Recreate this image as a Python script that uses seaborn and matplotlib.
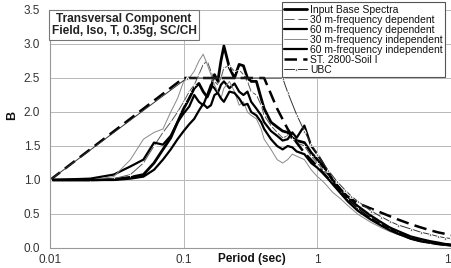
import numpy as np
import pandas as pd
import matplotlib
matplotlib.use("Agg")
import matplotlib.pyplot as plt
import seaborn as sns
from matplotlib.ticker import FixedLocator, FixedFormatter, NullLocator

# periods (sec) shared by the recorded spectra
period = [0.01, 0.02, 0.03, 0.04, 0.05, 0.06, 0.07, 0.08, 0.09, 0.1,
          0.11, 0.12, 0.13, 0.14, 0.15, 0.16, 0.17, 0.18, 0.19, 0.2,
          0.22, 0.24, 0.26, 0.28, 0.3, 0.32, 0.35, 0.38, 0.4, 0.45,
          0.5, 0.55, 0.6, 0.65, 0.7, 0.8, 0.9, 1.0, 1.1, 1.2,
          1.3, 1.5, 1.7, 2.0, 2.5, 3.0, 3.5, 4, 5, 6,
          7, 8, 9, 10]

input_base = [1.0, 1.0, 1.01, 1.04, 1.08, 1.25, 1.45, 1.62, 1.85, 2.05,
              2.2, 2.35, 2.42, 2.3, 2.22, 2.35, 2.55, 2.45, 2.75, 2.97,
              2.65, 2.5, 2.7, 2.68, 2.5, 2.45, 2.45, 2.2, 2.05, 1.85,
              1.78, 1.72, 1.7, 1.62, 1.58, 1.55, 1.4, 1.3, 1.2, 1.12,
              1.0, 0.85, 0.72, 0.6, 0.45, 0.35, 0.28, 0.22, 0.14, 0.1,
              0.08, 0.06, 0.05, 0.04]

dep_30 = [1.0, 1.0, 1.02, 1.08, 1.25, 1.5, 1.7, 1.85, 2.0, 2.15,
          2.3, 2.4, 2.55, 2.7, 2.75, 2.6, 2.45, 2.4, 2.5, 2.65,
          2.68, 2.6, 2.62, 2.55, 2.45, 2.3, 2.25, 2.1, 1.95, 1.8,
          1.7, 1.62, 1.65, 1.6, 1.55, 1.5, 1.35, 1.25, 1.15, 1.08,
          0.98, 0.85, 0.74, 0.6, 0.46, 0.37, 0.3, 0.25, 0.17, 0.12,
          0.09, 0.07, 0.06, 0.05]

dep_60 = [1.0, 1.02, 1.08, 1.2, 1.3, 1.55, 1.52, 1.65, 1.85, 1.98,
          2.08, 2.25, 2.15, 2.1, 2.25, 2.4, 2.35, 2.28, 2.4, 2.45,
          2.35, 2.42, 2.3, 2.25, 2.3, 2.15, 2.05, 1.95, 1.85, 1.72,
          1.65, 1.58, 1.6, 1.7, 1.62, 1.8, 1.5, 1.38, 1.25, 1.1,
          1.0, 0.86, 0.75, 0.62, 0.48, 0.38, 0.3, 0.25, 0.17, 0.13,
          0.1, 0.08, 0.06, 0.05]

indep_30 = [1.0, 1.0, 1.05, 1.3, 1.6, 1.7, 1.75, 2.0, 2.2, 2.45,
            2.5, 2.6, 2.75, 2.85, 2.7, 2.55, 2.4, 2.3, 2.2, 2.35,
            2.45, 2.3, 2.1, 2.15, 2.0, 1.95, 1.9, 1.75, 1.6, 1.45,
            1.3, 1.25, 1.3, 1.38, 1.35, 1.3, 1.15, 1.05, 0.98, 0.9,
            0.82, 0.72, 0.62, 0.5, 0.38, 0.3, 0.24, 0.2, 0.14, 0.1,
            0.08, 0.06, 0.05, 0.04]

indep_60 = [1.0, 1.0, 1.0, 1.02, 1.05, 1.15, 1.3, 1.45, 1.6, 1.72,
            1.82, 1.9, 2.02, 2.12, 2.06, 2.1, 2.25, 2.28, 2.2, 2.15,
            2.3, 2.28, 2.2, 2.1, 2.12, 2.0, 1.95, 1.85, 1.75, 1.6,
            1.5, 1.45, 1.5, 1.48, 1.42, 1.38, 1.25, 1.18, 1.1, 1.02,
            0.94, 0.8, 0.68, 0.55, 0.42, 0.33, 0.26, 0.21, 0.14, 0.1,
            0.08, 0.06, 0.05, 0.04]

# design spectra
st2800_T = [0.01, 0.1, 0.4, 0.5, 0.6, 0.7, 0.8, 1.0, 1.5, 2, 3, 4, 5, 6, 7, 8, 10]
st2800_B = [1.0, 2.5, 2.5, 2.05, 1.75, 1.55, 1.4, 1.2, 0.82, 0.66, 0.52, 0.42,
            0.35, 0.3, 0.26, 0.23, 0.19]

ubc_T = [0.01, 0.106, 0.55, 0.6, 0.7, 0.8, 0.9, 1.0, 1.2, 1.4, 1.6, 1.8, 2.0,
         2.5, 3, 3.5, 4, 5, 6, 7, 8, 9, 10]
ubc_B = [1.0, 2.5, 2.5, 2.29, 1.96, 1.72, 1.53, 1.38, 1.15, 0.98, 0.86, 0.76,
         0.69, 0.55, 0.46, 0.39, 0.34, 0.28, 0.23, 0.2, 0.17, 0.15, 0.14]

sns.set_theme(style="whitegrid")
plt.rcParams['font.family'] = ['Liberation Sans', 'DejaVu Sans']

fig = plt.figure(figsize=(4.51, 2.68), dpi=100)
ax = fig.add_axes([50 / 451, 20 / 268, 401 / 451, 238 / 268])

recorded = pd.DataFrame({
    'T': period,
    'Input Base Spectra': input_base,
    '30 m-frequency dependent': dep_30,
    '60 m-frequency dependent': dep_60,
    '30 m-frequency independent': indep_30,
    '60 m-frequency independent': indep_60,
})

sns.lineplot(data=recorded, x='T', y='Input Base Spectra', ax=ax, color='black',
             lw=2.0, label='Input Base Spectra', sort=False)
sns.lineplot(data=recorded, x='T', y='30 m-frequency dependent', ax=ax, color='#555555',
             lw=0.7, marker='+', markersize=3, markeredgewidth=0.6,
             label='30 m-frequency dependent', sort=False)
sns.lineplot(data=recorded, x='T', y='60 m-frequency dependent', ax=ax, color='black',
             lw=1.6, label='60 m-frequency dependent', sort=False)
sns.lineplot(data=recorded, x='T', y='30 m-frequency independent', ax=ax, color='#888888',
             lw=0.7, label='30 m-frequency independent', sort=False)
sns.lineplot(data=recorded, x='T', y='60 m-frequency independent', ax=ax, color='black',
             lw=1.6, label='60 m-frequency independent', sort=False)
sns.lineplot(x=st2800_T, y=st2800_B, ax=ax, color='black', lw=1.8,
             dashes=False, label='ST. 2800-Soil I', sort=False)
ax.lines[-1].set_dashes((5, 2.5))
sns.lineplot(x=ubc_T, y=ubc_B, ax=ax, color='#333333', lw=0.7, marker='^',
             markersize=2.5, label='UBC', sort=False)

ax.set_xscale('log')
ax.set_xlim(0.01, 10)
ax.set_ylim(0, 3.5)
ax.xaxis.set_major_locator(FixedLocator([0.01, 0.1, 1, 10]))
ax.xaxis.set_major_formatter(FixedFormatter(['0.01', '0.1', '1', '10']))
ax.xaxis.set_minor_locator(NullLocator())
ax.set_yticks(np.arange(0, 3.51, 0.5))
ax.set_yticklabels([f'{v:.1f}' for v in np.arange(0, 3.51, 0.5)])
ax.tick_params(axis='both', labelsize=8.5, colors='#333333', length=0)
ax.tick_params(axis='x', pad=4)
ax.tick_params(axis='y', pad=7)
ax.grid(True, color='#b8b8b8', lw=0.7)
ax.set_facecolor('white')
for s in ['top', 'right']:
    ax.spines[s].set_visible(False)
for s in ['left', 'bottom']:
    ax.spines[s].set_color('#999999')
    ax.spines[s].set_linewidth(0.8)
ax.set_xlabel('')
ax.set_ylabel('')

fig.text(252 / 451, 1 - 259 / 268, 'Period (sec)', ha='center', va='center',
         fontsize=8.5, fontweight='bold', color='#111111')
fig.text(12 / 451, 1 - 115 / 268, 'B', ha='center', va='center', rotation=90,
         fontsize=9, fontweight='bold', color='#111111')

fig.text(124 / 451, 1 - 25 / 268, 'Transversal Component\nField, Iso, T, 0.35g, SC/CH',
         ha='center', va='center', multialignment='center', fontsize=8.6,
         fontweight='bold', color='#222222', linespacing=1.1,
         bbox=dict(boxstyle='square,pad=0.2', fc='white', ec='#777777', lw=0.8))

leg = ax.legend(loc='upper right', bbox_to_anchor=(445 / 451, 1 - 2 / 268),
                bbox_transform=fig.transFigure, fontsize=7.5, frameon=True,
                fancybox=False, framealpha=1, edgecolor='#555555',
                handlelength=2.2, handletextpad=0.25, labelspacing=0.0,
                borderpad=0.25, borderaxespad=0)
leg.get_frame().set_linewidth(0.8)
for t in leg.get_texts():
    t.set_color('#111111')

fig.savefig('out.png', dpi=100)
